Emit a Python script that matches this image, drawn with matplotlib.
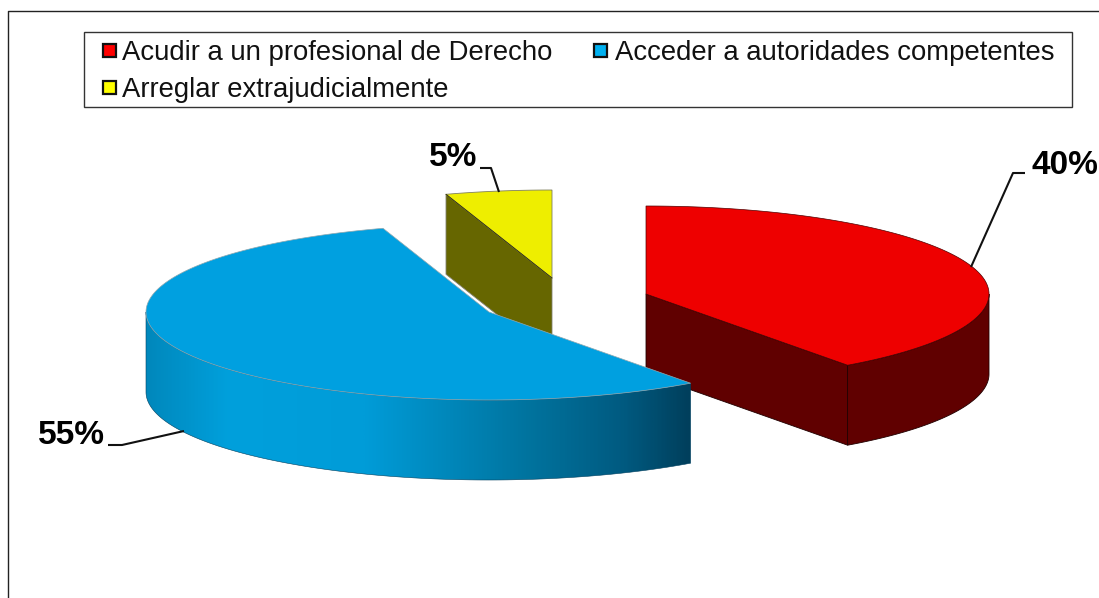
import numpy as np
import matplotlib
matplotlib.use("Agg")
import matplotlib.pyplot as plt
from matplotlib.patches import Polygon, Rectangle
from matplotlib.colors import LinearSegmentedColormap

categories = ["Acudir a un profesional de Derecho",
              "Acceder a autoridades competentes",
              "Arreglar extrajudicialmente"]
shares = [40, 55, 5]
pct_labels = ["40%", "55%", "5%"]
top_colors = ["#EE0000", "#00A0E0", "#EEEE00"]
side_colors = ["#600000", "#0090C8", "#666600"]
legend_colors = ["#FF0000", "#00B0F0", "#FFFF00"]

plt.rcParams["font.family"] = ["Liberation Sans", "DejaVu Sans"]
fig = plt.figure(figsize=(10.99, 5.98), dpi=100)
ax = fig.add_axes([0, 0, 1, 1])
ax.set_xlim(0, 1099)
ax.set_ylim(598, 0)
ax.axis("off")

A, B, DEPTH = 343, 88, 80
centers = [(646, 294), (489, 312), (552, 278)]

edges = np.cumsum([0] + shares) * 3.6


def pt(c, deg, dy=0):
    t = np.radians(deg)
    return c[0] + A * np.sin(t), c[1] - B * np.cos(t) + dy


def arc(c, d0, d1, dy=0):
    ts = np.linspace(d0, d1, 200)
    return [pt(c, t, dy) for t in ts]


def rim(c, d0, d1):
    return arc(c, d0, d1) + arc(c, d1, d0, DEPTH)


def top(c, d0, d1):
    return [c] + arc(c, d0, d1)


# frame
ax.plot([1099, 7.5, 7.5], [10.5, 10.5, 598], color="#222222", lw=1.0, zorder=1)

# red slice
c = centers[0]
d0, d1 = edges[0], edges[1]
p1 = pt(c, d1)
ax.add_patch(Polygon([c, p1, (p1[0], p1[1] + DEPTH), (c[0], c[1] + DEPTH)],
                     fc=side_colors[0], ec="#200000", lw=0.6, zorder=2))
ax.add_patch(Polygon(rim(c, 90, d1), fc=side_colors[0], ec="#200000", lw=0.6, zorder=2))
ax.add_patch(Polygon(top(c, d0, d1), fc=top_colors[0], ec="#500000", lw=0.5, zorder=3))

# yellow slice
c = centers[2]
d0, d1 = edges[2], edges[3]
p0 = pt(c, d0)
ax.add_patch(Polygon([p0, c, (c[0], c[1] + DEPTH), (p0[0], p0[1] + DEPTH)],
                     fc=side_colors[2], ec="#808070", lw=0.6, zorder=4))
ax.add_patch(Polygon(top(c, d0, d1), fc=top_colors[2], ec="#808060", lw=0.6, zorder=5))
ax.plot([p0[0], c[0]], [p0[1], c[1]], color="#333300", lw=0.6, zorder=6)

# blue slice
c = centers[1]
d0, d1 = edges[1], edges[2]
cmap = LinearSegmentedColormap.from_list(
    "rim", [(0, "#0088BC"), (0.15, "#00A0DC"), (0.4, "#009CD8"),
            (0.7, "#00749F"), (0.88, "#005A80"), (1, "#003F5C")])
poly = rim(c, d0, 270)
xs = [q[0] for q in poly]
ys = [q[1] for q in poly]
im = ax.imshow(np.linspace(0, 1, 400).reshape(1, -1), cmap=cmap, aspect="auto",
               extent=(min(xs), max(xs), max(ys), min(ys)), zorder=7)
clip = Polygon(poly, transform=ax.transData, fc="none", ec="#004060", lw=0.4, zorder=7)
ax.add_patch(clip)
im.set_clip_path(clip)
ax.set_xlim(0, 1099)
ax.set_ylim(598, 0)
ax.add_patch(Polygon(top(c, d0, d1), fc=top_colors[1], ec="#90A8B0", lw=0.5, zorder=8))

# leader lines and labels
leaders = [([1025, 1013, 971], [173, 173, 267]),
           ([108, 122, 184], [445, 445, 431]),
           ([480, 491, 499], [168, 168, 192])]
for xs_l, ys_l in leaders:
    ax.plot(xs_l, ys_l, color="#111111", lw=1.5, zorder=9, solid_capstyle="butt")
label_pos = [(1032, 165, "left"), (105, 435, "right"), (477, 158, "right")]
for (x, y, ha), s in zip(label_pos, pct_labels):
    ax.text(x, y, s, ha=ha, va="center", fontsize=24, fontweight="bold",
            color="black", zorder=10)

# legend
ax.add_patch(Rectangle((84, 31.5), 988, 75.5, fc="white", ec="#333333", lw=1.0, zorder=11))
entries = [(103, 50.5), (594, 50.5), (103, 87.5)]
text_x = [122, 615, 122]
for i, (x, y) in enumerate(entries):
    ax.add_patch(Rectangle((x, y - 6.5), 13, 13, fc=legend_colors[i], ec="#111111", lw=1.6, zorder=12))
    ax.text(text_x[i], y + 9.5, categories[i], ha="left", va="baseline", fontsize=19.85,
            color="#111111", zorder=12)

fig.savefig("out.png", dpi=100)
